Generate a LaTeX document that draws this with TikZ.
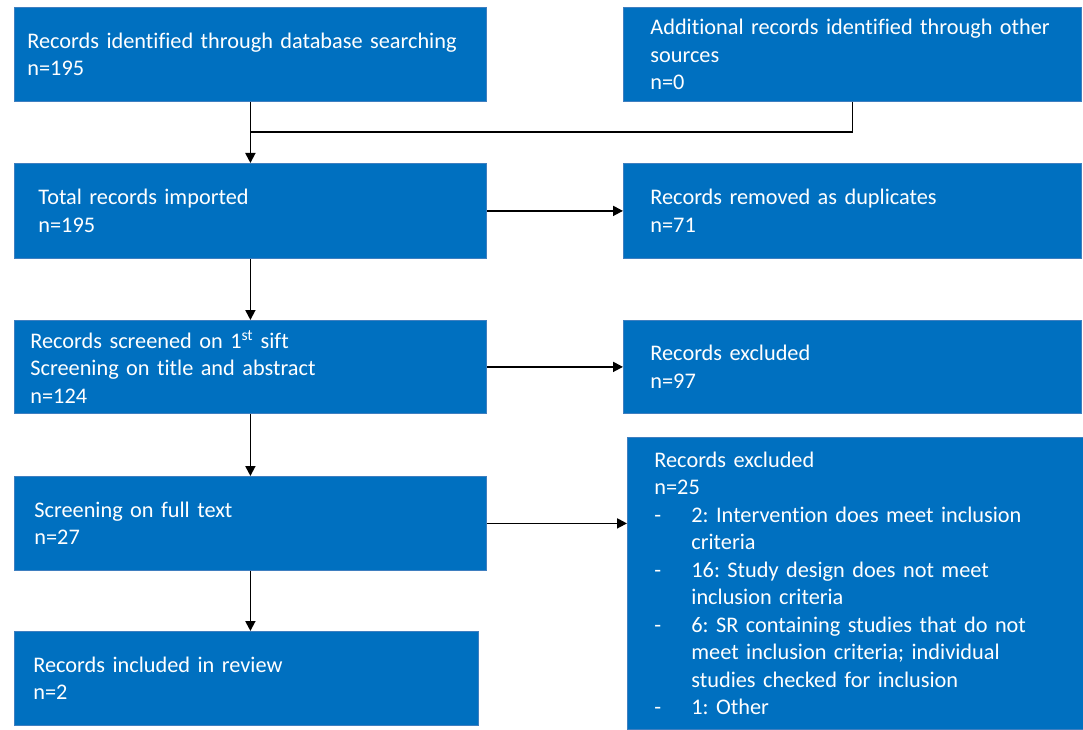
\documentclass[tikz,border=0pt]{standalone}
\usepackage{fontspec}
\setmainfont{Carlito}[Ligatures=NoCommon]
\usetikzlibrary{arrows.meta,calc}
\definecolor{boxblue}{HTML}{0070C0}
\definecolor{boxedge}{HTML}{3F7FC0}
\newcommand{\dashitem}{\makebox[37pt][l]{-}}
\newcommand{\hangline}{\hspace*{37pt}}
\frenchspacing
\begin{document}
\begin{tikzpicture}[x=1pt, y=-1pt,
    box/.style={fill=boxblue, draw=boxedge, line width=0.8pt, text=white,
      align=left, anchor=north west, inner ysep=0pt,
      font=\fontsize{22.3}{27.5}\selectfont},
    link/.style={line width=1.8pt},
    arr/.style={link, -{Triangle[length=10pt,width=10pt]}}]
    \useasboundingbox (0,0) rectangle (1083,730);

    % Identification
    \node[box, text width=446pt, inner xsep=13pt, minimum height=94pt] (ident) at (14,7)
        {Records identified through database searching\\ n=195};
    \node[box, text width=404pt, inner xsep=27pt, minimum height=94pt] (other) at (623,7)
        {\mbox{Additional records identified through other}\\ sources\\ n=0};

    % Screening
    \node[box, text width=424pt, inner xsep=24pt, minimum height=95pt] (total) at (14,163)
        {Total records imported\\ n=195};
    \node[box, text width=404pt, inner xsep=27pt, minimum height=95pt] (dupl) at (623,163)
        {Records removed as duplicates\\ n=71};

    \node[box, text width=440pt, inner xsep=16pt, minimum height=93pt] (sift) at (14,320)
        {Records screened on 1\textsuperscript{st} sift\\ Screening on title and abstract\\ n=124};
    \node[box, text width=404pt, inner xsep=27pt, minimum height=93pt] (excl) at (623,320)
        {Records excluded\\ n=97};

    % Eligibility
    \node[box, text width=432pt, inner xsep=20pt, minimum height=94pt] (full) at (14,476)
        {Screening on full text\\ n=27};
    \node[box, text width=402pt, inner xsep=27pt, minimum height=292pt] (fullexcl) at (627,437)
        {Records excluded\\ n=25\\
         \dashitem 2: Intervention does meet inclusion\\
         \hangline criteria\\
         \dashitem 16: Study design does not meet\\
         \hangline inclusion criteria\\
         \dashitem 6: SR containing studies that do not\\
         \hangline meet inclusion criteria; individual\\
         \hangline studies checked for inclusion\\
         \dashitem 1: Other};

    % Included
    \node[box, text width=426pt, inner xsep=19pt, minimum height=94pt] (incl) at (14,631)
        {Records included in review\\ n=2};

    % Connectors
    \coordinate (join) at ($(ident.south)!.5!(total.north)$);
    \draw[link] (ident.south) -- (join);
    \draw[link] (other.south) |- (join);
    \draw[arr] (join) -- (total.north);
    \draw[arr] (total.east) -- (dupl.west);
    \draw[arr] (total.south) -- (sift.north);
    \draw[arr] (sift.east) -- (excl.west);
    \draw[arr] (sift.south) -- (full.north);
    \draw[arr] (full.east) -- (full.east -| fullexcl.west);
    \draw[arr] (full.south) -- (full.south |- incl.north);
\end{tikzpicture}
\end{document}
